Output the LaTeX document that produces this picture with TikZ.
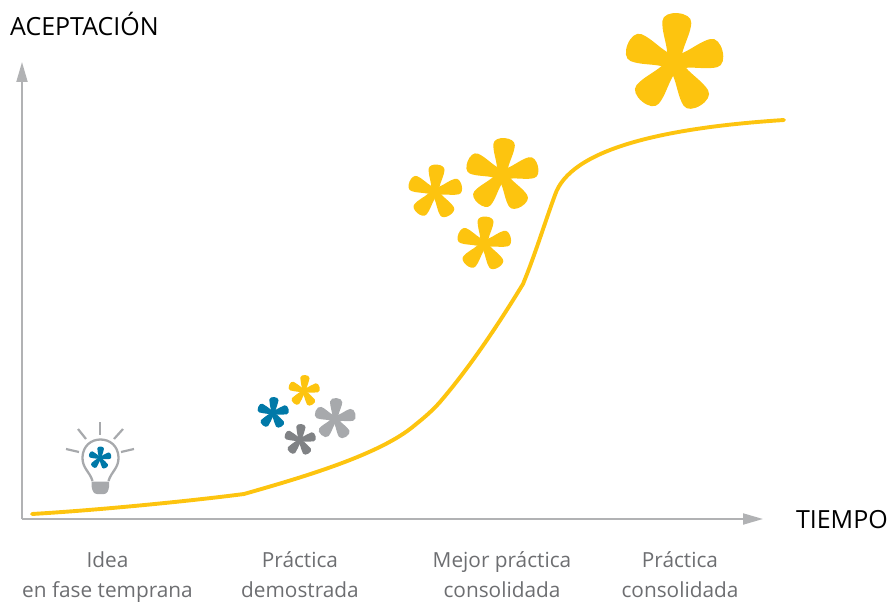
\documentclass[tikz,border=0pt]{standalone}
\usepackage{fontspec}
\setmainfont{Open Sans}
\usetikzlibrary{arrows.meta}
\definecolor{amarillo}{HTML}{FDC40F}
\definecolor{azul}{HTML}{0079A8}
\definecolor{grisclaro}{HTML}{A7A9AC}
\definecolor{grisoscuro}{HTML}{808285}
\definecolor{eje}{HTML}{B1B2B4}
\definecolor{rotulo}{HTML}{6D6E71}
\newcommand\petalo[1]{%
  \fill[rotate=#1] (0,0) -- (0.2,-0.15) .. controls (0.4,-0.18) and (0.62,-0.29) .. (0.82,-0.29)
    .. controls (0.94,-0.29) and (1,-0.15) .. (1,0)
    .. controls (1,0.15) and (0.94,0.29) .. (0.82,0.29)
    .. controls (0.62,0.29) and (0.4,0.18) .. (0.2,0.15) -- cycle;}
\newcommand\asterisco[4]{%
  \begin{scope}[shift={(#1,#2)},x=#3pt,y=#3pt,#4]
    \fill (0,0) circle (0.24);
    \petalo{14}\petalo{86}\petalo{158}\petalo{230}\petalo{302}
  \end{scope}}
\tikzset{
  axisline/.style={draw=eje,line width=2pt,-{Triangle[length=20pt,width=11pt]}},
  curva/.style={draw=amarillo,line width=3.9pt,line cap=round,line join=round},
  eje titulo/.style={text=black,font=\fontsize{25}{28}\selectfont,inner sep=0pt},
  rotulo eje/.style={text=rotulo,font=\fontsize{20.8}{30.5}\selectfont,align=center,inner sep=0pt},
  rayo/.style={draw=grisclaro,line width=2.2pt},
  bombilla/.style={draw=grisclaro,line width=2.3pt}
}
\begin{document}
\begin{tikzpicture}[x=1pt,y=-1pt]
\useasboundingbox (0,0) rectangle (892,604);
\coordinate (origen) at (22,519);
\coordinate (ytop) at (22,62);
\coordinate (xtip) at (763,519);
\draw[axisline] (origen) -- (ytop);
\draw[axisline] (origen) -- (xtip);
\node[eje titulo,anchor=base west] (acept) at (10,36) {ACEPTACIÓN};
\node[eje titulo,anchor=base east] (tiempo) at (888,528) {TIEMPO};
\node[rotulo eje] (l1) at (107.5,576.5) {\strut Idea\\\strut en fase temprana};
\node[rotulo eje] (l2) at (300,576.5) {\strut Práctica\\\strut demostrada};
\node[rotulo eje] (l3) at (502,576.5) {\strut Mejor práctica\\\strut consolidada};
\node[rotulo eje] (l4) at (680,576.5) {\strut Práctica\\\strut consolidada};
% curve
\draw[curva] (32,514) .. controls (100,510) and (190,501) .. (244,494)
  .. controls (300,478) and (380,455) .. (415,425)
  .. controls (425,417) and (433,410) .. (440,402)
  .. controls (470,367) and (498,325) .. (523,284)
  .. controls (535,255) and (545,222) .. (555,195)
  .. controls (570,150) and (660,128) .. (784,120);
% stars
\asterisco{674}{63}{50}{amarillo}
\asterisco{502}{175}{37}{amarillo}
\asterisco{435}{192}{27.5}{amarillo}
\asterisco{484}{244}{27.5}{amarillo}
\asterisco{304}{391}{16}{amarillo}
\asterisco{273}{413}{16}{azul}
\asterisco{335}{419}{21}{grisclaro}
\asterisco{300}{440}{16}{grisoscuro}
% bulb
\draw[rayo] (100,422) -- (100,435);
\draw[rayo] (78,429) -- (86,439);
\draw[rayo] (123,429) -- (114,439);
\draw[rayo] (66,449) -- (79,452);
\draw[rayo] (134,449) -- (121,452);
\draw[bombilla] (92.5,481) .. controls (90,472) and (82,468) .. (82.5,457)
  .. controls (83,446) and (91,439.5) .. (100.5,439.5)
  .. controls (110,439.5) and (118,446) .. (118.5,457)
  .. controls (119,468) and (111,472) .. (108.5,481);
\fill[grisclaro] (91.7,481.5) -- (109,481.5) -- (109,487) .. controls (108.5,491) and (107,494) .. (104,494)
  -- (97,494) .. controls (94,494) and (92.2,491) .. (91.7,487) -- cycle;
\asterisco{100}{458}{11.5}{azul}
\end{tikzpicture}
\end{document}
